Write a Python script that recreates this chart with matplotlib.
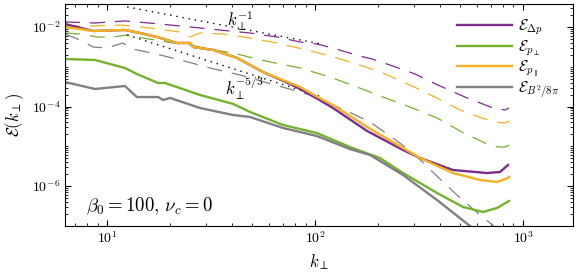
import math
import matplotlib
matplotlib.use("Agg")
import matplotlib.pyplot as plt
from matplotlib.ticker import LogLocator, FuncFormatter, NullFormatter

plt.rcParams['mathtext.fontset'] = 'cm'
plt.rcParams['font.family'] = 'serif'

PURPLE = '#7B2D8B'
GREEN = '#74B22E'
ORANGE = '#F4B223'
GRAY = '#808080'

# solid curves (k_perp, spectrum)
k_dp = [6.28, 8.57, 12.2, 14.4, 17.4, 21.7, 25.1, 25.9, 32.4, 42.2, 56.2, 75.9, 84.7,
        103, 122, 178, 265, 320, 460, 671, 775, 847]
E_dp = [1.19e-2, 7.93e-3, 8.41e-3, 7.06e-3, 5.60e-3, 3.96e-3, 3.96e-3, 3.14e-3, 2.64e-3,
        1.66e-3, 7.38e-4, 3.68e-4, 2.76e-4, 1.55e-4, 9.16e-5, 2.42e-5, 8.05e-6, 5.06e-6,
        2.53e-6, 2.12e-6, 2.25e-6, 3.38e-6]

k_ppar = [6.28, 8.57, 12.2, 14.4, 17.4, 21.7, 25.1, 25.9, 32.4, 42.2, 56.2, 75.9, 84.7,
          103, 122, 178, 265, 320, 460, 621, 750, 847, 857]
E_ppar = [1.0e-2, 7.93e-3, 8.41e-3, 7.06e-3, 5.60e-3, 3.96e-3, 3.96e-3, 3.14e-3, 2.64e-3,
          1.66e-3, 7.38e-4, 3.90e-4, 3.10e-4, 1.73e-4, 1.09e-4, 3.05e-5, 9.04e-6, 5.06e-6,
          2.12e-6, 1.42e-6, 1.26e-6, 1.59e-6, 1.70e-6]

k_pperp = [6.28, 8.75, 12.2, 13.9, 17.6, 19.0, 28.0, 40.4, 48.7, 70.2, 102, 147, 205,
           265, 386, 515, 643, 750, 857]
E_pperp = [1.57e-3, 1.48e-3, 9.30e-4, 6.58e-4, 3.90e-4, 3.90e-4, 1.95e-4, 1.16e-4, 7.28e-5,
           3.43e-5, 2.15e-5, 9.57e-6, 5.06e-6, 2.12e-6, 6.67e-7, 2.96e-7, 2.22e-7, 2.80e-7,
           4.20e-7]

k_B = [6.28, 8.75, 12.2, 13.9, 17.6, 18.6, 20.1, 28.0, 40.4, 48.7, 70.2, 102, 147, 184,
       265, 386, 556, 621]
E_B = [4.13e-4, 2.76e-4, 3.28e-4, 1.73e-4, 1.73e-4, 1.46e-4, 1.64e-4, 9.16e-5, 6.11e-5,
       5.45e-5, 2.88e-5, 1.81e-5, 8.53e-6, 6.03e-6, 1.89e-6, 4.44e-7, 9.86e-8, 6.2e-8]

# dashed curves
k_dp_d = [6.28, 8.75, 12.2, 18.0, 25.1, 34.9, 48.7, 65.6, 84.7, 102, 122, 136, 164, 188,
          222, 251, 303, 338, 399, 526, 718, 819, 857]
E_dp_d = [1.34e-2, 1.26e-2, 1.42e-2, 1.19e-2, 1.0e-2, 8.41e-3, 7.06e-3, 5.60e-3, 4.20e-3,
          3.73e-3, 2.96e-3, 2.49e-3, 1.86e-3, 1.57e-3, 1.17e-3, 9.30e-4, 6.58e-4, 4.92e-4,
          3.28e-4, 1.73e-4, 9.16e-5, 8.16e-5, 9.16e-5]

k_ppar_d = [6.28, 8.57, 11.8, 16.1, 22.4, 25.1, 28.0, 36.1, 48.7, 65.6, 91.5, 118, 159,
            212, 286, 377, 498, 635, 733, 819, 857]
E_ppar_d = [1.06e-2, 1.06e-2, 1.12e-2, 9.44e-3, 7.48e-3, 5.60e-3, 7.06e-3, 6.67e-3, 5.28e-3,
            3.96e-3, 2.64e-3, 1.86e-3, 1.17e-3, 6.97e-4, 3.48e-4, 1.73e-4, 8.16e-5, 5.14e-5,
            4.07e-5, 3.84e-5, 4.31e-5]

k_pperp_d = [6.28, 7.42, 8.95, 10.7, 12.5, 13.9, 20.8, 25.1, 32.4, 40.4, 50.3, 60.8, 84.7,
             118, 159, 212, 286, 386, 509, 671, 759, 819, 857]
E_pperp_d = [7.06e-3, 6.67e-3, 5.60e-3, 5.60e-3, 6.29e-3, 5.60e-3, 3.96e-3, 3.52e-3, 2.64e-3,
             2.22e-3, 1.66e-3, 1.32e-3, 9.30e-4, 5.52e-4, 3.10e-4, 1.73e-4, 9.71e-5, 5.14e-5,
             2.28e-5, 1.14e-5, 9.57e-6, 9.57e-6, 1.07e-5]

k_B_d = [6.28, 7.42, 8.57, 10.0, 11.9, 13.3, 18.0, 24.5, 31.3, 43.6, 59.4, 78.3, 94.6, 121,
         139, 184, 237, 296, 390, 487, 621, 733, 857]
E_B_d = [6.67e-3, 4.71e-3, 3.14e-3, 2.96e-3, 3.96e-3, 2.80e-3, 1.98e-3, 1.32e-3, 9.30e-4,
         6.20e-4, 3.90e-4, 2.60e-4, 1.95e-4, 1.09e-4, 8.16e-5, 4.07e-5, 1.61e-5, 6.76e-6,
         1.68e-6, 5.60e-7, 1.86e-7, 9.3e-8, 4.9e-8]

# reference slopes (end points)
k_guide = [12.5, 110]
E_guide1 = [3.2e-2, 3.64e-3]
E_guide53 = [6.3e-3, 1.68e-4]

fig = plt.figure(figsize=(5.81, 2.74), dpi=100)
ax = fig.add_axes([0.1119, 0.1752, 0.8744, 0.8102])

lw_s = 1.7
lw_d = 0.9
dash = (12, 8)

ax.plot(k_dp_d, E_dp_d, color=PURPLE, lw=lw_d, dashes=dash)
ax.plot(k_pperp_d, E_pperp_d, color=GREEN, lw=lw_d, dashes=dash)
ax.plot(k_ppar_d, E_ppar_d, color=ORANGE, lw=lw_d, dashes=dash)
ax.plot(k_B_d, E_B_d, color=GRAY, lw=lw_d, dashes=dash)

ax.plot(k_guide, E_guide1, color='k', lw=1.0, ls=(0, (1, 3.5)))
ax.plot(k_guide, E_guide53, color='k', lw=1.0, ls=(0, (1, 3.5)))

ax.plot(k_dp, E_dp, color=PURPLE, lw=lw_s, label=r'$\mathcal{E}_{\Delta p}$')
ax.plot(k_pperp, E_pperp, color=GREEN, lw=lw_s, label=r'$\mathcal{E}_{p_\perp}$')
ax.plot(k_ppar, E_ppar, color=ORANGE, lw=lw_s, label=r'$\mathcal{E}_{p_\parallel}$')
ax.plot(k_B, E_B, color=GRAY, lw=lw_s, label=r'$\mathcal{E}_{B^2/8\pi}$')

ax.set_xscale('log')
ax.set_yscale('log')
ax.set_xlim(6.28, 1740)
ax.set_ylim(9.86e-8, 3.79e-2)

ax.xaxis.set_major_locator(LogLocator(base=10, subs=[1.0], numticks=10))
ax.xaxis.set_minor_locator(LogLocator(base=10, subs=[2, 3, 4, 5, 6, 7, 8, 9], numticks=20))
ax.yaxis.set_major_locator(plt.FixedLocator([1e-6, 1e-4, 1e-2]))
ax.yaxis.set_minor_locator(LogLocator(base=10, subs=[1, 2, 3, 4, 5, 6, 7, 8, 9], numticks=30))
fmt = FuncFormatter(lambda v, p: r'$10^{%d}$' % round(math.log10(v)))
ax.xaxis.set_major_formatter(fmt)
ax.yaxis.set_major_formatter(fmt)
ax.xaxis.set_minor_formatter(NullFormatter())
ax.yaxis.set_minor_formatter(NullFormatter())
ax.tick_params(which='both', direction='in', top=True, right=True, labelsize=10)
ax.tick_params(which='major', length=4, width=0.8)
ax.tick_params(which='minor', length=2.2, width=0.6)

ax.set_xlabel(r'$k_\perp$', fontsize=12, labelpad=4)
ax.set_ylabel(r'$\mathcal{E}(k_\perp)$', fontsize=12, labelpad=4)

ax.text(44, 1.4e-2, r'$k_\perp^{-1}$', fontsize=12, ha='center', va='center')
ax.text(46, 2.9e-4, r'$k_\perp^{-5/3}$', fontsize=12, ha='center', va='center')
ax.text(0.041, 0.088, r'$\beta_0 = 100,\, \nu_c = 0$', transform=ax.transAxes,
        fontsize=13.5, ha='left', va='center')

ax.legend(loc='upper right', bbox_to_anchor=(1.0, 1.0), frameon=False, fontsize=11,
          handlelength=3.6, handletextpad=0.4, labelspacing=0.05, borderaxespad=0.5)

fig.savefig('out.png', dpi=100)
